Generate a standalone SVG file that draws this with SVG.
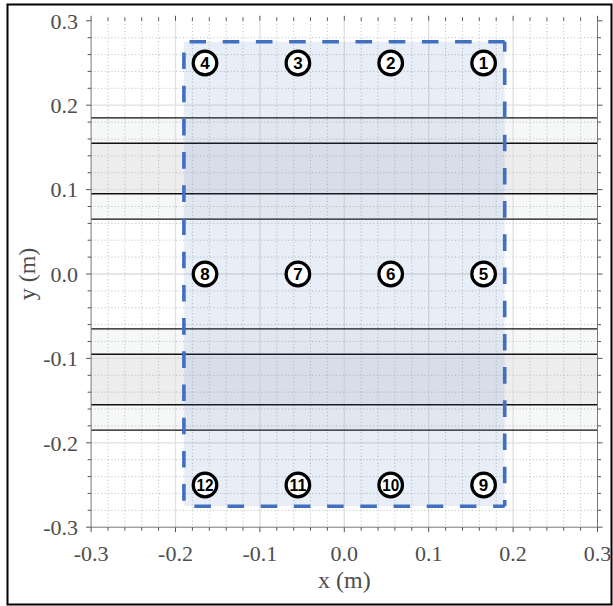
<svg xmlns="http://www.w3.org/2000/svg" width="613" height="606" viewBox="0 0 613 606">
<style>
.tl{font-family:"Liberation Serif","Times New Roman",serif;font-size:22px;fill:#4d4d4d}
.al{font-family:"Liberation Serif","Times New Roman",serif;font-size:24px;fill:#4d4d4d;text-anchor:middle}
.yl{text-anchor:end}
.xl{text-anchor:middle}
.minor{stroke:#b4b4b4;stroke-width:0.9;stroke-dasharray:1 2.4;fill:none}
.major{stroke:#e0e0e0;stroke-width:1.3;fill:none}
.band{stroke:#111;stroke-width:1.4;fill:none}
.tick{stroke:#555;stroke-width:1;fill:none}
.spine{stroke:#777;stroke-width:1;fill:none}
.edge{stroke:#4170c0;stroke-width:3.6;stroke-dasharray:16.6 16.6;fill:none}
.mk circle{fill:#fff;stroke:#000;stroke-width:3.2}
.mk text{font-family:"Liberation Sans",Arial,sans-serif;font-weight:bold;font-size:17px;text-anchor:middle;fill:#000}
</style>
<rect x="0" y="0" width="613" height="606" fill="#fff"/>
<rect x="7.5" y="4.5" width="604" height="600" fill="none" stroke="#000" stroke-width="2"/>
<g id="bands">
<rect x="91.1" y="117.9" width="506.4" height="101.2" fill="#f6f7f7"/>
<rect x="91.1" y="143.2" width="506.4" height="50.6" fill="#ededee"/>
<rect x="91.1" y="328.9" width="506.4" height="101.2" fill="#f6f7f7"/>
<rect x="91.1" y="354.2" width="506.4" height="50.6" fill="#ededee"/>
</g>
<g id="grid">
<path class="major" d="M175.5 20.8V527.2M259.9 20.8V527.2M344.3 20.8V527.2M428.7 20.8V527.2M513.1 20.8V527.2M91.1 105.2H597.5M91.1 189.6H597.5M91.1 274H597.5M91.1 358.4H597.5M91.1 442.8H597.5"/>
<path class="minor" d="M108 20.8V527.2M124.9 20.8V527.2M141.7 20.8V527.2M158.6 20.8V527.2M192.4 20.8V527.2M209.3 20.8V527.2M226.2 20.8V527.2M243 20.8V527.2M276.8 20.8V527.2M293.7 20.8V527.2M310.5 20.8V527.2M327.4 20.8V527.2M361.2 20.8V527.2M378.1 20.8V527.2M394.9 20.8V527.2M411.8 20.8V527.2M445.6 20.8V527.2M462.5 20.8V527.2M479.3 20.8V527.2M496.2 20.8V527.2M530 20.8V527.2M546.9 20.8V527.2M563.7 20.8V527.2M580.6 20.8V527.2M91.1 37.7H597.5M91.1 54.6H597.5M91.1 71.4H597.5M91.1 88.3H597.5M91.1 122.1H597.5M91.1 139H597.5M91.1 155.8H597.5M91.1 172.7H597.5M91.1 206.5H597.5M91.1 223.4H597.5M91.1 240.2H597.5M91.1 257.1H597.5M91.1 290.9H597.5M91.1 307.8H597.5M91.1 324.6H597.5M91.1 341.5H597.5M91.1 375.3H597.5M91.1 392.2H597.5M91.1 409H597.5M91.1 425.9H597.5M91.1 459.7H597.5M91.1 476.6H597.5M91.1 493.4H597.5M91.1 510.3H597.5"/>
</g>
<g id="band-lines">
<path class="band" d="M91.1 117.9H597.5M91.1 143.2H597.5M91.1 193.8H597.5M91.1 219.1H597.5M91.1 328.9H597.5M91.1 354.2H597.5M91.1 404.8H597.5M91.1 430.1H597.5"/>
</g>
<g id="axes">
<path class="spine" d="M91.1 20.8V527.2H597.5V20.8"/>
<path class="tick" d="M86.1 20.8H91.1M86.1 105.2H91.1M86.1 189.6H91.1M86.1 274H91.1M86.1 358.4H91.1M86.1 442.8H91.1M86.1 527.2H91.1M597.5 20.8H602.5M597.5 105.2H602.5M597.5 189.6H602.5M597.5 274H602.5M597.5 358.4H602.5M597.5 442.8H602.5M597.5 527.2H602.5M91.1 15.8V20.8M175.5 15.8V20.8M259.9 15.8V20.8M344.3 15.8V20.8M428.7 15.8V20.8M513.1 15.8V20.8M597.5 15.8V20.8M91.1 527.2V532.2M175.5 527.2V532.2M259.9 527.2V532.2M344.3 527.2V532.2M428.7 527.2V532.2M513.1 527.2V532.2M597.5 527.2V532.2"/>
<path class="tick" d="M87.6 37.7H91.1M87.6 54.6H91.1M87.6 71.4H91.1M87.6 88.3H91.1M87.6 122.1H91.1M87.6 139H91.1M87.6 155.8H91.1M87.6 172.7H91.1M87.6 206.5H91.1M87.6 223.4H91.1M87.6 240.2H91.1M87.6 257.1H91.1M87.6 290.9H91.1M87.6 307.8H91.1M87.6 324.6H91.1M87.6 341.5H91.1M87.6 375.3H91.1M87.6 392.2H91.1M87.6 409H91.1M87.6 425.9H91.1M87.6 459.7H91.1M87.6 476.6H91.1M87.6 493.4H91.1M87.6 510.3H91.1M597.5 37.7H601M597.5 54.6H601M597.5 71.4H601M597.5 88.3H601M597.5 122.1H601M597.5 139H601M597.5 155.8H601M597.5 172.7H601M597.5 206.5H601M597.5 223.4H601M597.5 240.2H601M597.5 257.1H601M597.5 290.9H601M597.5 307.8H601M597.5 324.6H601M597.5 341.5H601M597.5 375.3H601M597.5 392.2H601M597.5 409H601M597.5 425.9H601M597.5 459.7H601M597.5 476.6H601M597.5 493.4H601M597.5 510.3H601"/>
<path class="tick" d="M108 17.3V20.8M124.9 17.3V20.8M141.7 17.3V20.8M158.6 17.3V20.8M192.4 17.3V20.8M209.3 17.3V20.8M226.2 17.3V20.8M243 17.3V20.8M276.8 17.3V20.8M293.7 17.3V20.8M310.5 17.3V20.8M327.4 17.3V20.8M361.2 17.3V20.8M378.1 17.3V20.8M394.9 17.3V20.8M411.8 17.3V20.8M445.6 17.3V20.8M462.5 17.3V20.8M479.3 17.3V20.8M496.2 17.3V20.8M530 17.3V20.8M546.9 17.3V20.8M563.7 17.3V20.8M580.6 17.3V20.8M108 527.2V530.7M124.9 527.2V530.7M141.7 527.2V530.7M158.6 527.2V530.7M192.4 527.2V530.7M209.3 527.2V530.7M226.2 527.2V530.7M243 527.2V530.7M276.8 527.2V530.7M293.7 527.2V530.7M310.5 527.2V530.7M327.4 527.2V530.7M361.2 527.2V530.7M378.1 527.2V530.7M394.9 527.2V530.7M411.8 527.2V530.7M445.6 527.2V530.7M462.5 527.2V530.7M479.3 527.2V530.7M496.2 527.2V530.7M530 527.2V530.7M546.9 527.2V530.7M563.7 527.2V530.7M580.6 527.2V530.7"/>
<g class="tl yl">
<text x="78" y="28.5">0.3</text>
<text x="78" y="112.9">0.2</text>
<text x="78" y="197.3">0.1</text>
<text x="78" y="281.7">0.0</text>
<text x="78" y="366.1">-0.1</text>
<text x="78" y="450.5">-0.2</text>
<text x="78" y="534.9">-0.3</text>
</g>
<g class="tl xl">
<text x="91.1" y="561">-0.3</text>
<text x="175.5" y="561">-0.2</text>
<text x="259.9" y="561">-0.1</text>
<text x="344.3" y="561">0.0</text>
<text x="428.7" y="561">0.1</text>
<text x="513.1" y="561">0.2</text>
<text x="597.5" y="561">0.3</text>
</g>
<text class="al" x="344.3" y="588">x (m)</text>
<text class="al" x="35" y="274" transform="rotate(-90 35 274)">y (m)</text>
</g>
<g id="region">
<rect x="183.9" y="41.8" width="320.8" height="464.4" fill="#4472c4" fill-opacity="0.12"/>
<line class="edge" x1="183.9" y1="41.8" x2="504.7" y2="41.8" stroke-dashoffset="-5.6"/>
<line class="edge" x1="504.7" y1="41.8" x2="504.7" y2="506.2" stroke-dashoffset="6.7"/>
<line class="edge" x1="183.9" y1="506.2" x2="504.7" y2="506.2" stroke-dashoffset="-10.4"/>
<line class="edge" x1="183.9" y1="41.8" x2="183.9" y2="506.2" stroke-dashoffset="-10.7"/>
</g>
<g id="node1" class="mk"><circle cx="483.6" cy="63" r="11.8"/><text x="483.6" y="69">1</text></g>
<g id="node2" class="mk"><circle cx="390.7" cy="63" r="11.8"/><text x="390.7" y="69">2</text></g>
<g id="node3" class="mk"><circle cx="297.9" cy="63" r="11.8"/><text x="297.9" y="69">3</text></g>
<g id="node4" class="mk"><circle cx="205" cy="63" r="11.8"/><text x="205" y="69">4</text></g>
<g id="node5" class="mk"><circle cx="483.6" cy="274" r="11.8"/><text x="483.6" y="280">5</text></g>
<g id="node6" class="mk"><circle cx="390.7" cy="274" r="11.8"/><text x="390.7" y="280">6</text></g>
<g id="node7" class="mk"><circle cx="297.9" cy="274" r="11.8"/><text x="297.9" y="280">7</text></g>
<g id="node8" class="mk"><circle cx="205" cy="274" r="11.8"/><text x="205" y="280">8</text></g>
<g id="node9" class="mk"><circle cx="483.6" cy="485" r="11.8"/><text x="483.6" y="491">9</text></g>
<g id="node10" class="mk"><circle cx="390.7" cy="485" r="11.8"/><text x="390.7" y="491" textLength="17" lengthAdjust="spacingAndGlyphs">10</text></g>
<g id="node11" class="mk"><circle cx="297.9" cy="485" r="11.8"/><text x="297.9" y="491" textLength="17" lengthAdjust="spacingAndGlyphs">11</text></g>
<g id="node12" class="mk"><circle cx="205" cy="485" r="11.8"/><text x="205" y="491" textLength="17" lengthAdjust="spacingAndGlyphs">12</text></g>
<g id="connectors"></g>
</svg>
